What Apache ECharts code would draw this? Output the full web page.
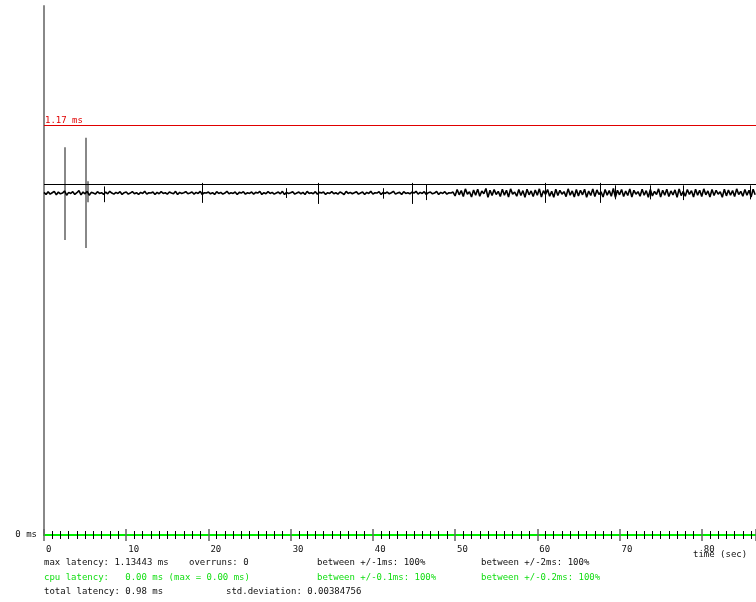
<!DOCTYPE html>
<html>
<head>
<meta charset="utf-8">
<title>latency</title>
<script src="https://cdn.jsdelivr.net/npm/echarts@6/dist/echarts.min.js"></script>
<style>
  html, body { margin: 0; padding: 0; background: #fff; }
  #latency_chart { width: 756px; height: 602px; }
</style>
</head>
<body>
<div id="latency_chart"></div>
<script>
// 延迟曲线 数据 ------------------
// 采样间隔(秒)
var SAMPLE_STEP = 0.25;
// 延迟采样 (us)
var latency_us = [
  978,972,980,973,977,981,971,979,974,976,982,970,978,975,980,972,977,983,971,979,
  974,981,970,978,976,973,980,975,977,972,979,974,981,976,973,978,975,980,972,977,
  979,973,976,980,974,977,972,978,975,981,973,977,976,979,972,978,974,980,975,977,
  973,979,976,974,981,972,978,975,977,980,974,976,979,973,978,975,981,972,977,976,
  979,974,977,972,980,975,978,973,976,981,974,977,975,979,972,978,976,980,973,977,
  975,979,973,978,976,981,972,977,974,980,975,978,973,976,979,974,981,972,978,975,
  977,980,973,976,979,974,978,972,981,975,977,974,980,973,978,976,979,972,977,975,
  980,974,977,973,979,976,972,981,975,978,974,977,980,973,976,979,972,978,975,981,
  973,977,976,980,972,978,975,979,974,977,981,973,976,978,972,980,975,977,974,979,
  976,981,973,978,975,980,972,977,979,974,976,981,972,978,975,980,973,977,976,979,
  968,986,971,983,966,988,973,980,965,985,970,987,967,982,974,989,964,984,969,986,
  972,981,966,987,970,984,965,988,973,979,967,986,969,983,964,987,971,982,966,985,
  970,988,965,983,972,986,967,981,964,987,969,984,973,980,966,988,970,982,965,986,
  968,984,971,987,964,982,969,988,966,985,972,980,965,986,970,983,967,989,964,984,
  971,986,966,982,969,988,965,984,973,980,967,987,970,983,964,986,968,981,972,988,
  965,984,970,987,966,982,971,985,964,988,969,981,967,986,972,983,965,987,970,984,
  966,988,971,982,965,986,969,984,973,980,964,987,968,985,970,983,966,988,972,981,
  967,986,970,984,965,987,971
];
// 尖峰 [秒, 最小us, 最大us]
var gray_spikes = [[2.5, 842, 1107], [5.1, 819, 1134], [5.3, 950, 1010]];
var black_spikes = [
  [7.3, 950, 995], [19.3, 948, 1005], [29.5, 962, 990], [33.4, 945, 1005],
  [41.3, 960, 990], [44.8, 945, 1005], [46.5, 956, 1000], [61.0, 948, 1005],
  [67.6, 948, 1005], [69.5, 958, 998], [73.7, 958, 998], [77.8, 956, 998],
  [85.9, 958, 998]
];
// 参考线 (ms)
var limit_ms = 1.17;
var ref_ms = 1.0;
// 统计文字
var stat_rows = [
  ["max latency: 1.13443 ms", "overruns: 0", "between +/-1ms: 100%", "between +/-2ms: 100%"],
  ["cpu latency:   0.00 ms (max = 0.00 ms)", "between +/-0.1ms: 100%", "between +/-0.2ms: 100%"],
  ["total latency: 0.98 ms", "std.deviation: 0.00384756"]
];

var MONO = "DejaVu Sans Mono";
var GREEN = "#11dd11";
var RED = "#e00000";

var latency_chart = echarts.init(document.getElementById('latency_chart'), null, {renderer: 'canvas'});

function buildTrace() {
	var res = [];
	for (var i = 0; i < latency_us.length; i++) {
		res.push([i * SAMPLE_STEP, latency_us[i] / 1000]);
	}
	return res;
}

function buildSpikes(list) {
	return list.map(function (s) {
		return {coords: [[s[0], s[1] / 1000], [s[0], s[2] / 1000]]};
	});
}

function txt(x, y, s, color) {
	return {
		type: 'text', left: x, top: y - 6, silent: true,
		style: {text: s, fill: color || '#111', font: '9px "' + MONO + '"'}
	};
}

// 文字位置
var row_y = [564, 579, 593];
var row_x = [[44, 189, 317, 481], [44, 317, 481], [44, 226]];
var graphics = [];
stat_rows.forEach(function (row, r) {
	row.forEach(function (s, c) {
		graphics.push(txt(row_x[r][c], row_y[r], s, r == 1 ? GREEN : '#111'));
	});
});
graphics.push(txt(693, 556, "time (sec)"));

var xBase = {
	type: 'value', min: 0, max: 86.6, interval: 10, position: 'bottom',
	splitLine: {show: false}
};

var option = {
	animation: false,
	backgroundColor: '#fff',
	grid: {left: 44, right: 0, top: 6, bottom: 67, containLabel: false},
	xAxis: [
		Object.assign({}, xBase, {
			axisLine: {show: true, onZero: false, lineStyle: {color: '#00ee00', width: 2}},
			axisTick: {show: true, inside: false, length: 6, lineStyle: {color: '#666', width: 1.5}},
			minorTick: {show: true, splitNumber: 10, length: 4, lineStyle: {color: '#000'}},
			axisLabel: {
				show: true, margin: 10, align: 'left', padding: [0, 0, 0, 2],
				fontFamily: MONO, fontSize: 9, color: '#111',
				showMaxLabel: false
			},
			z: 5
		}),
		Object.assign({}, xBase, {
			axisLine: {show: false},
			axisTick: {show: true, inside: true, length: 6, lineStyle: {color: '#666', width: 1.5}},
			minorTick: {show: true, splitNumber: 10, length: 4, lineStyle: {color: '#000'}},
			axisLabel: {show: false},
			z: 6
		})
	],
	yAxis: {
		type: 'value', min: 0, max: 1.51, interval: 1.51,
		axisLine: {show: true, lineStyle: {color: '#888', width: 2}},
		axisTick: {show: false},
		splitLine: {show: false},
		axisLabel: {
			margin: 7, fontFamily: MONO, fontSize: 9, color: '#111',
			formatter: function (v) { return v === 0 ? '0 ms' : ''; }
		}
	},
	series: [
		{
			name: 'latency', type: 'line', xAxisIndex: 0,
			data: buildTrace(), symbol: 'none', sampling: null,
			lineStyle: {color: '#000', width: 1.6},
			z: 3,
			markLine: {
				silent: true, symbol: 'none', animation: false,
				data: [
					{
						yAxis: limit_ms,
						lineStyle: {color: RED, width: 1, type: 'solid'},
						label: {
							show: true, formatter: '1.17 ms', position: 'insideStartTop',
							distance: [1, 0], color: RED, fontFamily: MONO, fontSize: 9
						}
					},
					{
						yAxis: ref_ms,
						lineStyle: {color: '#000', width: 1, type: 'solid'},
						label: {show: false}
					}
				]
			}
		},
		{
			name: 'gray_spikes', type: 'lines', coordinateSystem: 'cartesian2d',
			xAxisIndex: 0, data: buildSpikes(gray_spikes), silent: true,
			lineStyle: {color: '#888', width: 2, opacity: 1}, z: 2
		},
		{
			name: 'black_spikes', type: 'lines', coordinateSystem: 'cartesian2d',
			xAxisIndex: 0, data: buildSpikes(black_spikes), silent: true,
			lineStyle: {color: '#000', width: 1, opacity: 1}, z: 4
		}
	],
	graphic: graphics
};

latency_chart.setOption(option);
</script>
</body>
</html>
